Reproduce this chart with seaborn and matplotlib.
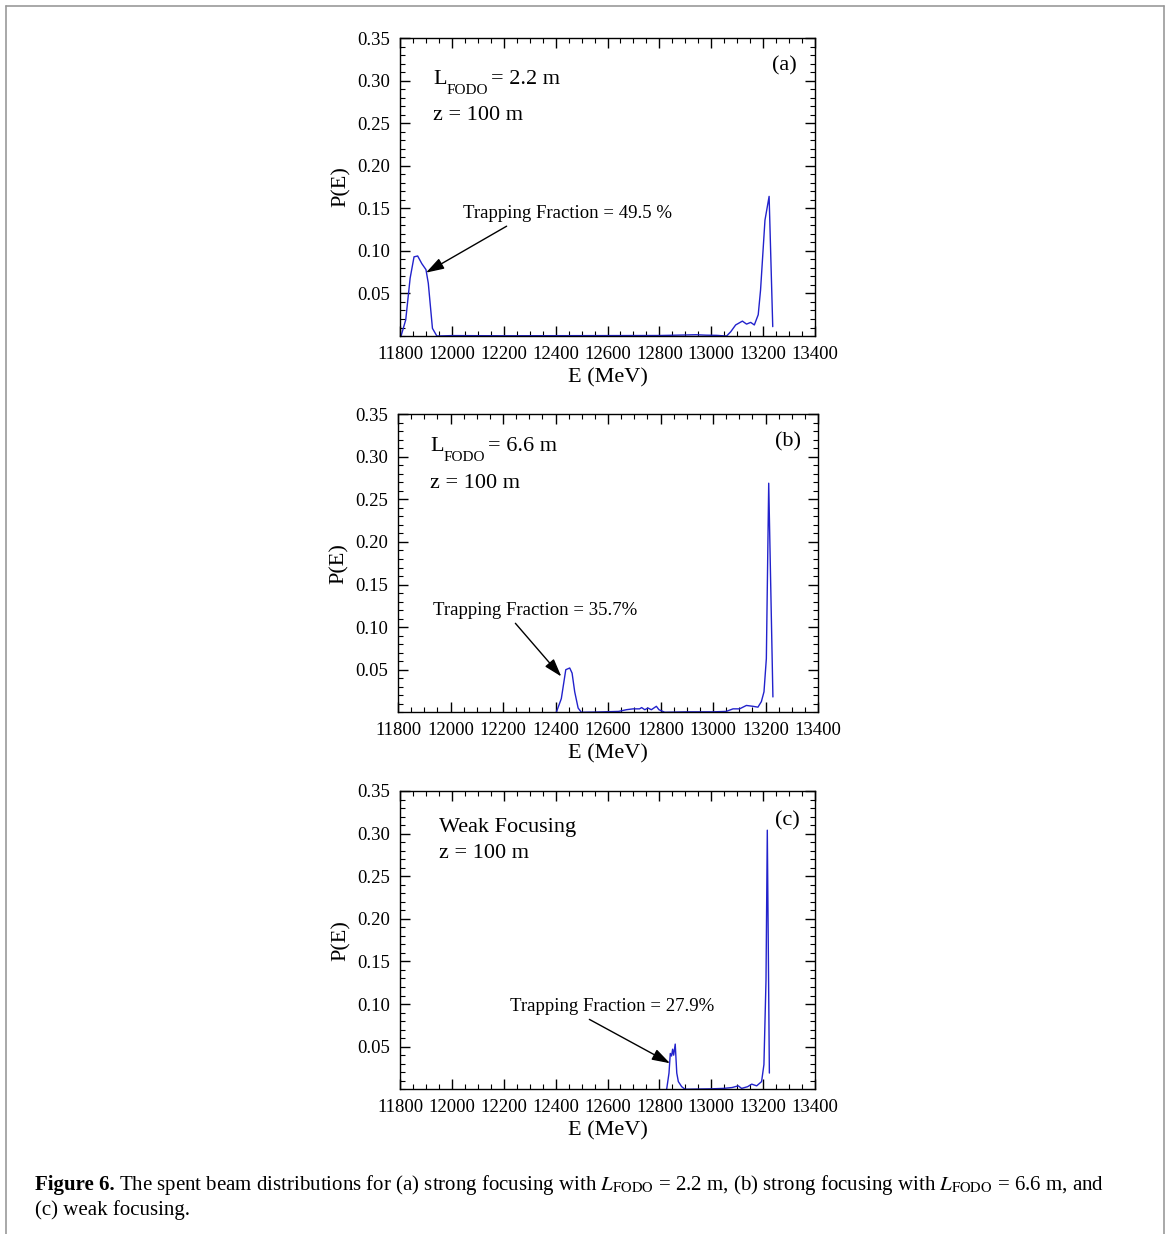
import numpy as np
import pandas as pd
import seaborn as sns
import matplotlib.pyplot as plt
from matplotlib.ticker import FixedLocator, MultipleLocator, FormatStrFormatter
from matplotlib.lines import Line2D
from matplotlib.transforms import offset_copy

# panel (a): strong focusing, L_FODO = 2.2 m
a_E = [11804, 11822, 11839, 11854, 11868, 11884, 11900, 11909, 11925, 11942, 12000, 12200,
       12400, 12600, 12800, 12900, 12940, 12980, 13020, 13059, 13075, 13094, 13120, 13136,
       13152, 13166, 13181, 13190, 13207, 13223, 13237]
a_P = [0, 0.019, 0.068, 0.093, 0.094, 0.085, 0.078, 0.062, 0.009, 0.0, 0.0005, 0.0003,
       0.0004, 0.0005, 0.0006, 0.0012, 0.0015, 0.001, 0.0008, 0.0, 0.005, 0.013, 0.0175, 0.014,
       0.016, 0.013, 0.025, 0.054, 0.136, 0.164, 0.011]

# panel (b): strong focusing, L_FODO = 6.6 m
b_E = [12403, 12422, 12439, 12454, 12463, 12473, 12486, 12498, 12560, 12640, 12670, 12695,
       12720, 12728, 12740, 12752, 12765, 12784, 12794, 12816, 12900, 13000, 13050, 13076,
       13101, 13127, 13152, 13171, 13184, 13194, 13203, 13212, 13228]
b_P = [0, 0.016, 0.050, 0.052, 0.046, 0.024, 0.005, 0, 0.0003, 0.001, 0.003, 0.004,
       0.004, 0.0055, 0.003, 0.005, 0.003, 0.007, 0.003, 0.0, 0.0005, 0.0005, 0.001, 0.004,
       0.004, 0.008, 0.007, 0.006, 0.0125, 0.024, 0.063, 0.269, 0.018]

# panel (c): weak focusing
c_E = [12828, 12837, 12842, 12847, 12851, 12855, 12861, 12867, 12873, 12886, 12899, 13000,
       13046, 13080, 13104, 13117, 13140, 13156, 13175, 13194, 13203, 13211, 13216, 13224]
c_P = [0, 0.019, 0.042, 0.039, 0.047, 0.040, 0.053, 0.019, 0.009, 0.003, 0, 0.0005,
       0.001, 0.002, 0.004, 0.001, 0.003, 0.006, 0.004, 0.009, 0.029, 0.128, 0.304, 0.019]

x_ticks = [11800, 12000, 12200, 12400, 12600, 12800, 13000, 13200, 13400]
y_ticks = [0.05, 0.10, 0.15, 0.20, 0.25, 0.30, 0.35]

panel_tags = ["(a)", "(b)", "(c)"]
lfodo_val = ["= 2.2 m", "= 6.6 m", None]
line2 = ["z = 100 m", "z = 100 m", "z = 100 m"]
trap_txt = ["Trapping Fraction = 49.5 %", "Trapping Fraction = 35.7%", "Trapping Fraction = 27.9%"]
trap_pos = [(12042, 0.144), (11933, 0.120), (12224, 0.097)]
arrow_tail = [(12211, 0.129), (12247, 0.1045), (12530, 0.082)]
arrow_tip = [(11900, 0.0744), (12422, 0.042), (12841, 0.0305)]

sns.set_style("ticks")
plt.rcParams['font.family'] = ['Liberation Serif', 'DejaVu Serif']
plt.rcParams['mathtext.fontset'] = 'stix'
plt.rcParams['text.color'] = 'black'
plt.rcParams['axes.labelcolor'] = 'black'

fig = plt.figure(figsize=(11.7, 12.34), dpi=100)
boxes = [[0.3419, 0.7277, 0.3547, 0.2415],
         [0.3402, 0.4228, 0.3590, 0.2415],
         [0.3419, 0.1173, 0.3547, 0.2417]]
l1_xy = [(0.080, 0.862), (0.077, 0.891), (0.095, 0.878)]
l2_xy = [(0.080, 0.739), (0.077, 0.766), (0.095, 0.791)]
tag_xy = [(0.956, 0.907), (0.960, 0.908), (0.964, 0.900)]

data = [(a_E, a_P), (b_E, b_P), (c_E, c_P)]
axes = []
for i, (E, P) in enumerate(data):
    ax = fig.add_axes(boxes[i])
    axes.append(ax)
    df = pd.DataFrame({"E": E, "P": P})
    sns.lineplot(data=df, x="E", y="P", ax=ax, color="#2222cc", linewidth=1.0, sort=False)
    ax.set_xlim(11800, 13400)
    ax.set_ylim(0, 0.35)
    ax.xaxis.set_major_locator(FixedLocator(x_ticks))
    ax.xaxis.set_minor_locator(MultipleLocator(50))
    ax.yaxis.set_major_locator(FixedLocator(y_ticks))
    ax.yaxis.set_minor_locator(MultipleLocator(0.01))
    ax.yaxis.set_major_formatter(FormatStrFormatter('%.2f'))
    ax.tick_params(which='both', direction='in', top=True, right=True, colors='k')
    ax.tick_params(which='major', length=7, width=1.0, labelsize=13.5, pad=7)
    ax.tick_params(which='minor', length=3.5, width=0.8)
    for s in ax.spines.values():
        s.set_linewidth(1.0)
        s.set_color('k')
    ax.set_xlabel("E (MeV)", fontsize=16, labelpad=4)
    ax.set_ylabel("P(E)", fontsize=16, labelpad=5)

    ax.text(*l2_xy[i], line2[i], transform=ax.transAxes, fontsize=16, va='center', ha='left')
    ax.text(*tag_xy[i], panel_tags[i], transform=ax.transAxes, fontsize=16, va='center', ha='right')
    ax.text(*trap_pos[i], trap_txt[i], fontsize=13.5, va='center', ha='left')
    ax.annotate("", xy=arrow_tip[i], xytext=arrow_tail[i],
                arrowprops=dict(arrowstyle='-|>,head_length=1.1,head_width=0.35',
                                color='k', lw=1.0, shrinkA=0, shrinkB=0))

# first label line: "L" + low subscript "FODO" + value, or plain text
fig.canvas.draw()
for i, ax in enumerate(axes):
    if lfodo_val[i] is None:
        ax.text(*l1_xy[i], "Weak Focusing", transform=ax.transAxes, fontsize=16,
                va='center', ha='left')
        continue
    tL = ax.text(*l1_xy[i], "L", transform=ax.transAxes, fontsize=16, va='center', ha='left')
    bL = tL.get_window_extent()
    tr = offset_copy(ax.transAxes, fig=fig, x=(bL.width) * 72 / 100, y=-11 * 72 / 100, units='points')
    tS = ax.text(*l1_xy[i], "FODO", transform=tr, fontsize=11, va='center', ha='left')
    bS = tS.get_window_extent()
    tr2 = offset_copy(ax.transAxes, fig=fig, x=(bL.width + bS.width + 3) * 72 / 100, y=0, units='points')
    ax.text(*l1_xy[i], lfodo_val[i], transform=tr2, fontsize=16, va='center', ha='left')

# frame around the figure
for xs, ys in [([6/1170, 1164/1170], [1-6/1234, 1-6/1234]),
               ([6/1170, 6/1170], [1-6/1234, 0]),
               ([1164/1170, 1164/1170], [1-6/1234, 0])]:
    fig.add_artist(Line2D(xs, ys, transform=fig.transFigure, color='#999999', lw=1.2))

# caption
cap_y1 = 1 - 1185/1234
cap_y2 = 1 - 1210/1234
t0 = fig.text(35/1170, cap_y1, "Figure 6.", fontsize=15, fontweight='bold', va='center', ha='left')
fig.canvas.draw()
bb = t0.get_window_extent()
fig.text(bb.x1/1170 + 4/1170, cap_y1,
         r"The spent beam distributions for (a) strong focusing with $L_{\mathrm{FODO}}$ = 2.2 m, "
         r"(b) strong focusing with $L_{\mathrm{FODO}}$ = 6.6 m, and",
         fontsize=15, va='center', ha='left')
fig.text(35/1170, cap_y2, "(c) weak focusing.", fontsize=15, va='center', ha='left')

fig.savefig("out.png", dpi=100)
